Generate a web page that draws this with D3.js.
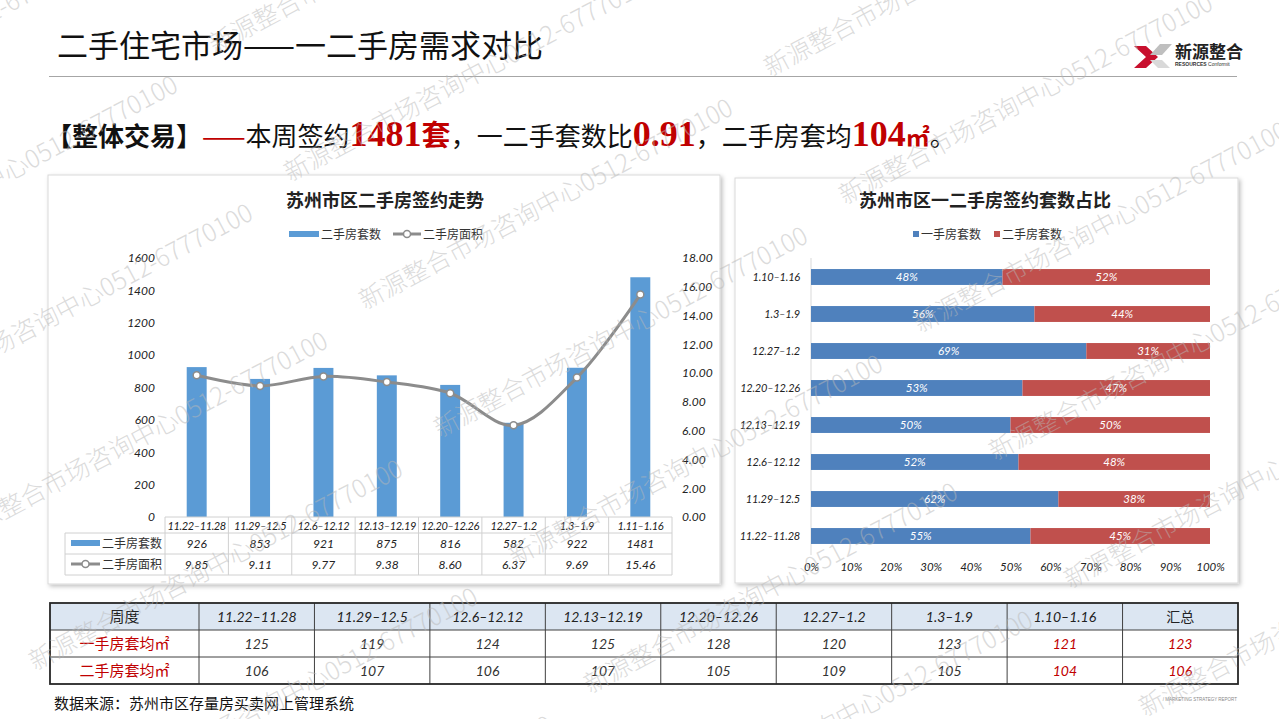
<!DOCTYPE html>
<html><head><meta charset="utf-8">
<script src="https://cdn.jsdelivr.net/npm/d3@7"></script>
<style>
body{margin:0;background:#fff;}
svg{display:block;}
</style></head><body>
<svg id="c" width="1279" height="719"></svg>
<script>
// ---------- data ----------
const weeks = ["11.22–11.28","11.29–12.5","12.6–12.12","12.13–12.19","12.20–12.26","12.27–1.2","1.3–1.9","1.11–1.16"];
const secondHandCount = [926,853,921,875,816,582,922,1481];
const secondHandArea = [9.85,9.11,9.77,9.38,8.60,6.37,9.69,15.46];
const countTicks = [0,200,400,600,800,1000,1200,1400,1600];
const areaTicks = [0,2,4,6,8,10,12,14,16,18];

const shareWeeks = ["1.10–1.16","1.3–1.9","12.27–1.2","12.20–12.26","12.13–12.19","12.6–12.12","11.29–12.5","11.22–11.28"];
const firstShare = [48,56,69,53,50,52,62,55];
const secondShare = [52,44,31,47,50,48,38,45];
const shareTicks = [0,10,20,30,40,50,60,70,80,90,100];

const tableWeeks = ["11.22–11.28","11.29–12.5","12.6–12.12","12.13–12.19","12.20–12.26","12.27–1.2","1.3–1.9","1.10–1.16","汇总"];
const firstAvg = [125,119,124,125,128,120,123,121,123];
const secondAvg = [106,107,106,107,105,109,105,104,106];

const watermarkText = "新源整合市场咨询中心0512-67770100";

// ---------- setup ----------
const svg = d3.select("#c");
const CJK = "'Noto Sans CJK SC','Noto Sans',sans-serif";
const NUM = "Lato,'Open Sans',sans-serif";
const BLUE = "#5b9bd5", GRAY = "#8c8c8c", B2 = "#4f81bd", R2 = "#c0504d", DR = "#c00000";

const defs = svg.append("defs");
const f = defs.append("filter").attr("id","sh").attr("x","-5%").attr("y","-5%").attr("width","110%").attr("height","110%");
f.append("feDropShadow").attr("dx",2).attr("dy",2).attr("stdDeviation",2).attr("flood-color","#000").attr("flood-opacity",0.25);

// ---------- header ----------
svg.append("text").attr("x",57).attr("y",57).attr("font-family",CJK).attr("font-size",31).attr("fill","#111")
  .text("二手住宅市场——一二手房需求对比");
svg.append("line").attr("x1",49).attr("x2",1237).attr("y1",76.5).attr("y2",76.5).attr("stroke","#a6a6a6").attr("stroke-width",1);

// logo
const lg = svg.append("g");
lg.append("path").attr("d","M1134,46 L1146,46 L1158,57 L1146,68 L1134,68 L1146,57 Z").attr("fill","#c8102e");
lg.append("path").attr("d","M1172,44 L1160,44 L1150,55 L1162,55 Z").attr("fill","#bfbfbf");
lg.append("path").attr("d","M1150,60 L1162,60 L1170,68 L1158,68 Z").attr("fill","#d9d9d9");
lg.append("text").attr("x",1175).attr("y",58).attr("font-family",CJK).attr("font-weight",700).attr("font-size",17).attr("fill","#222").text("新源整合");
lg.append("text").attr("x",1175).attr("y",65.5).attr("font-family","'Liberation Sans',sans-serif").attr("font-size",5).attr("fill","#333")
  .html("<tspan font-weight='700'>RESOURCES</tspan> Conformit");

// headline
const hl = svg.append("text").attr("x",46).attr("y",146).attr("font-family",CJK).attr("font-size",26).attr("fill","#111");
hl.append("tspan").attr("font-weight",700).text("【整体交易】");
hl.append("tspan").attr("fill",DR).text("——");
hl.append("tspan").text("本周签约");
hl.append("tspan").attr("fill",DR).attr("font-family","'Liberation Serif',serif").attr("font-weight",700).attr("font-size",36).text("1481");
hl.append("tspan").attr("fill",DR).attr("font-weight",700).attr("font-size",29).text("套");
hl.append("tspan").text("，一二手套数比");
hl.append("tspan").attr("fill",DR).attr("font-family","'Liberation Serif',serif").attr("font-weight",700).attr("font-size",36).text("0.91");
hl.append("tspan").text("，二手房套均");
hl.append("tspan").attr("fill",DR).attr("font-family","'Liberation Serif',serif").attr("font-weight",700).attr("font-size",36).text("104");
hl.append("tspan").attr("fill",DR).attr("font-weight",700).attr("font-size",24).text("㎡");
hl.append("tspan").text("。");

// ---------- panels ----------
svg.append("rect").attr("x",48).attr("y",175).attr("width",672).attr("height",409).attr("fill","#fff").attr("stroke","#d9d9d9").attr("filter","url(#sh)");
svg.append("rect").attr("x",735).attr("y",178).attr("width",503).attr("height",405).attr("fill","#fff").attr("stroke","#d9d9d9").attr("filter","url(#sh)");

// ---------- left chart ----------
const L = svg.append("g");
L.append("text").attr("x",385).attr("y",207).attr("text-anchor","middle").attr("font-family",CJK).attr("font-weight",700).attr("font-size",18).attr("fill","#222").text("苏州市区二手房签约走势");
L.append("rect").attr("x",289).attr("y",231).attr("width",30).attr("height",6).attr("fill",BLUE);
L.append("text").attr("x",321).attr("y",238.5).attr("font-family",CJK).attr("font-size",12).attr("fill","#333").text("二手房套数");
L.append("line").attr("x1",393).attr("x2",421).attr("y1",234).attr("y2",234).attr("stroke",GRAY).attr("stroke-width",3);
L.append("circle").attr("cx",407).attr("cy",234).attr("r",3.5).attr("fill","#fff").attr("stroke",GRAY).attr("stroke-width",1.5);
L.append("text").attr("x",423).attr("y",238.5).attr("font-family",CJK).attr("font-size",12).attr("fill","#333").text("二手房面积");

const xL = d3.scaleBand().domain(weeks).range([165,672]).paddingInner(0.685).paddingOuter(0.3425);
const xCell = d3.scaleBand().domain(weeks).range([165,672]);
const yL = d3.scaleLinear().domain([0,1600]).range([517,258]);
const yR = d3.scaleLinear().domain([0,18]).range([517,258]);

const axL = L.append("g").attr("transform","translate(165,0)").call(d3.axisLeft(yL).tickValues(countTicks).tickSize(0).tickPadding(10).tickFormat(d3.format("d")));
const axR = L.append("g").attr("transform","translate(672,0)").call(d3.axisRight(yR).tickValues(areaTicks).tickSize(0).tickPadding(10).tickFormat(d3.format(".2f")));
[axL,axR].forEach(a=>{a.select(".domain").remove();a.selectAll("text").attr("font-family",NUM).attr("font-style","italic").attr("font-size",12).attr("fill","#222");});

L.selectAll("rect.bar").data(weeks).join("rect").attr("class","bar")
  .attr("x",d=>xL(d)).attr("width",xL.bandwidth())
  .attr("y",(d,i)=>yL(secondHandCount[i])).attr("height",(d,i)=>yL(0)-yL(secondHandCount[i]))
  .attr("fill",BLUE);

const line = d3.line().x((d,i)=>xCell(weeks[i])+xCell.bandwidth()/2).y(d=>yR(d)).curve(d3.curveCatmullRom.alpha(0.5));
L.append("path").attr("d",line(secondHandArea)).attr("fill","none").attr("stroke",GRAY).attr("stroke-width",3);
L.selectAll("circle.pt").data(secondHandArea).join("circle").attr("class","pt")
  .attr("cx",(d,i)=>xCell(weeks[i])+xCell.bandwidth()/2).attr("cy",d=>yR(d)).attr("r",3.5)
  .attr("fill","#fff").attr("stroke",GRAY).attr("stroke-width",1.5);

// data table below chart
const TB = L.append("g");
const rowY = [517,533,554,575];
const gridC = "#d0d0d0";
TB.append("line").attr("x1",165).attr("x2",672).attr("y1",rowY[0]).attr("y2",rowY[0]).attr("stroke",gridC);
[1,2,3].forEach(k=>TB.append("line").attr("x1",65).attr("x2",672).attr("y1",rowY[k]).attr("y2",rowY[k]).attr("stroke",gridC));
TB.append("line").attr("x1",65).attr("x2",65).attr("y1",rowY[1]).attr("y2",rowY[3]).attr("stroke",gridC);
weeks.forEach(w=>TB.append("line").attr("x1",xCell(w)).attr("x2",xCell(w)).attr("y1",rowY[0]).attr("y2",rowY[3]).attr("stroke",gridC));
TB.append("line").attr("x1",672).attr("x2",672).attr("y1",rowY[0]).attr("y2",rowY[3]).attr("stroke",gridC);
TB.selectAll("text.wk").data(weeks).join("text").attr("class","wk")
  .attr("x",d=>xCell(d)+xCell.bandwidth()/2).attr("y",529.5).attr("text-anchor","middle")
  .attr("font-family",NUM).attr("font-style","italic").attr("font-size",11).attr("letter-spacing",-0.4).attr("fill","#222").text(d=>d);
TB.selectAll("text.cnt").data(secondHandCount).join("text").attr("class","cnt")
  .attr("x",(d,i)=>xCell(weeks[i])+xCell.bandwidth()/2).attr("y",548).attr("text-anchor","middle")
  .attr("font-family",NUM).attr("font-style","italic").attr("font-size",12).attr("fill","#222").text(d=>d);
TB.selectAll("text.area").data(secondHandArea).join("text").attr("class","area")
  .attr("x",(d,i)=>xCell(weeks[i])+xCell.bandwidth()/2).attr("y",569).attr("text-anchor","middle")
  .attr("font-family",NUM).attr("font-style","italic").attr("font-size",12).attr("fill","#222").text(d=>d3.format(".2f")(d));
TB.append("rect").attr("x",71).attr("y",540).attr("width",29).attr("height",6).attr("fill",BLUE);
TB.append("text").attr("x",102).attr("y",548).attr("font-family",CJK).attr("font-size",12).attr("fill","#333").text("二手房套数");
TB.append("line").attr("x1",71).attr("x2",100).attr("y1",564).attr("y2",564).attr("stroke",GRAY).attr("stroke-width",3);
TB.append("circle").attr("cx",85.5).attr("cy",564).attr("r",3.5).attr("fill","#fff").attr("stroke",GRAY).attr("stroke-width",1.5);
TB.append("text").attr("x",102).attr("y",568.5).attr("font-family",CJK).attr("font-size",12).attr("fill","#333").text("二手房面积");

// ---------- right chart ----------
const R = svg.append("g");
R.append("text").attr("x",985).attr("y",207).attr("text-anchor","middle").attr("font-family",CJK).attr("font-weight",700).attr("font-size",18).attr("fill","#222").text("苏州市区一二手房签约套数占比");
R.append("rect").attr("x",913).attr("y",231).attr("width",6).attr("height",6).attr("fill",B2);
R.append("text").attr("x",921).attr("y",238.5).attr("font-family",CJK).attr("font-size",12).attr("fill","#333").text("一手房套数");
R.append("rect").attr("x",994).attr("y",231).attr("width",6).attr("height",6).attr("fill",R2);
R.append("text").attr("x",1002).attr("y",238.5).attr("font-family",CJK).attr("font-size",12).attr("fill","#333").text("二手房套数");

const xS = d3.scaleLinear().domain([0,100]).range([811,1210]);
const yS = d3.scaleBand().domain(shareWeeks).range([258.5,554.5]).paddingInner(0.57).paddingOuter(0.285);
R.append("line").attr("x1",811).attr("x2",811).attr("y1",258).attr("y2",555).attr("stroke","#d9d9d9");
const axS = R.append("g").attr("transform","translate(811,0)").call(d3.axisLeft(yS).tickSize(0).tickPadding(11));
const axX = R.append("g").attr("transform","translate(0,555)").call(d3.axisBottom(xS).tickValues(shareTicks).tickSize(0).tickPadding(8).tickFormat(d=>d+"%"));
[axS,axX].forEach(a=>{a.select(".domain").remove();a.selectAll("text").attr("font-family",NUM).attr("font-style","italic").attr("font-size",11.5).attr("fill","#222");});
axS.selectAll("text").attr("font-size",11).attr("letter-spacing",-0.2);

R.selectAll("rect.s1").data(shareWeeks).join("rect").attr("class","s1")
  .attr("x",xS(0)).attr("y",d=>yS(d)).attr("height",yS.bandwidth())
  .attr("width",(d,i)=>xS(firstShare[i])-xS(0)).attr("fill",B2);
R.selectAll("rect.s2").data(shareWeeks).join("rect").attr("class","s2")
  .attr("x",(d,i)=>xS(firstShare[i])).attr("y",d=>yS(d)).attr("height",yS.bandwidth())
  .attr("width",(d,i)=>xS(firstShare[i]+secondShare[i])-xS(firstShare[i])).attr("fill",R2);
R.selectAll("text.l1").data(shareWeeks).join("text").attr("class","l1")
  .attr("x",(d,i)=>xS(firstShare[i]/2)).attr("y",d=>yS(d)+yS.bandwidth()/2+4).attr("text-anchor","middle")
  .attr("font-family",NUM).attr("font-style","italic").attr("font-size",11.5).attr("fill","#fff").text((d,i)=>firstShare[i]+"%");
R.selectAll("text.l2").data(shareWeeks).join("text").attr("class","l2")
  .attr("x",(d,i)=>xS(firstShare[i]+secondShare[i]/2)).attr("y",d=>yS(d)+yS.bandwidth()/2+4).attr("text-anchor","middle")
  .attr("font-family",NUM).attr("font-style","italic").attr("font-size",11.5).attr("fill","#fff").text((d,i)=>secondShare[i]+"%");

// ---------- bottom table ----------
const T = svg.append("g");
const tx0 = 50, tx1 = 199, txEnd = 1238;
const xT = d3.scaleBand().domain(tableWeeks).range([tx1,txEnd]);
const tY = [603,630,657,684];
T.append("rect").attr("x",tx0).attr("y",tY[0]).attr("width",txEnd-tx0).attr("height",tY[1]-tY[0]).attr("fill","#dce6f2");
[1,2].forEach(k=>T.append("line").attr("x1",tx0).attr("x2",txEnd).attr("y1",tY[k]).attr("y2",tY[k]).attr("stroke","#404040").attr("stroke-width",1));
tableWeeks.forEach(w=>T.append("line").attr("x1",xT(w)).attr("x2",xT(w)).attr("y1",tY[0]).attr("y2",tY[3]).attr("stroke","#404040").attr("stroke-width",1));
T.append("rect").attr("x",tx0).attr("y",tY[0]).attr("width",txEnd-tx0).attr("height",tY[3]-tY[0]).attr("fill","none").attr("stroke","#262626").attr("stroke-width",1.8);
T.append("text").attr("x",(tx0+tx1)/2).attr("y",622).attr("text-anchor","middle").attr("font-family",CJK).attr("font-size",15).attr("fill","#222").text("周度");
T.selectAll("text.h").data(tableWeeks).join("text").attr("class","h")
  .attr("x",d=>xT(d)+xT.bandwidth()/2).attr("y",622).attr("text-anchor","middle")
  .attr("font-family",d=>d==="汇总"?CJK:NUM).attr("font-style",d=>d==="汇总"?"normal":"italic").attr("font-size",14).attr("fill","#222").text(d=>d);
T.append("text").attr("x",(tx0+tx1)/2).attr("y",649).attr("text-anchor","middle").attr("font-family",CJK).attr("font-size",15).attr("fill",DR).text("一手房套均㎡");
T.append("text").attr("x",(tx0+tx1)/2).attr("y",676).attr("text-anchor","middle").attr("font-family",CJK).attr("font-size",15).attr("fill",DR).text("二手房套均㎡");
T.selectAll("text.r1").data(firstAvg).join("text").attr("class","r1")
  .attr("x",(d,i)=>xT(tableWeeks[i])+xT.bandwidth()/2).attr("y",649).attr("text-anchor","middle")
  .attr("font-family",NUM).attr("font-style","italic").attr("font-size",14).attr("fill",(d,i)=>i>=7?DR:"#333").text(d=>d);
T.selectAll("text.r2").data(secondAvg).join("text").attr("class","r2")
  .attr("x",(d,i)=>xT(tableWeeks[i])+xT.bandwidth()/2).attr("y",676).attr("text-anchor","middle")
  .attr("font-family",NUM).attr("font-style","italic").attr("font-size",14).attr("fill",(d,i)=>i>=7?DR:"#333").text(d=>d);

// ---------- footer ----------
svg.append("text").attr("x",54).attr("y",709).attr("font-family",CJK).attr("font-size",15).attr("fill","#111").text("数据来源：苏州市区存量房买卖网上管理系统");
svg.append("text").attr("x",1237).attr("y",701).attr("text-anchor","end").attr("font-family","'Liberation Sans',sans-serif").attr("font-size",4.5).attr("fill","#888").text("/ MARKETING STRATEGY REPORT");

// ---------- watermark (tiled, rotated) ----------
const WM = svg.append("g").attr("pointer-events","none");
const wmPos = [];
for (let i=-2;i<=3;i++) for (let j=-3;j<=5;j++) {
  const x = 365 + i*480 + j*75, y = 310 - i*105 + j*128;
  if (x > -480 && x < 1300 && y > -40 && y < 960) wmPos.push([x,y]);
}
WM.selectAll("text").data(wmPos).join("text")
  .attr("transform",d=>`translate(${d[0]},${d[1]}) rotate(-28)`)
  .attr("font-family",CJK).attr("font-weight",300).attr("font-size",25)
  .attr("fill","#b8b8b8").attr("fill-opacity",0.5).text(watermarkText);
</script>
</body></html>
